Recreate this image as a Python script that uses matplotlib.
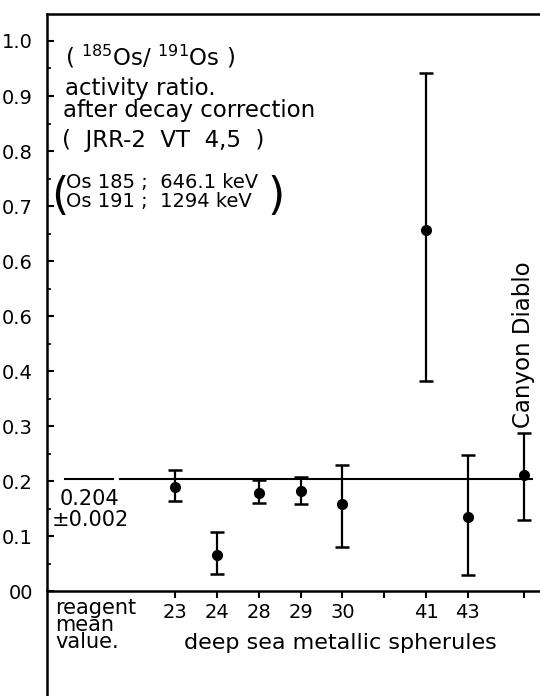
import matplotlib
matplotlib.use("Agg")
import matplotlib.pyplot as plt
import numpy as np

# ---- data ----
sample_labels = ["23", "24", "28", "29", "30", "", "41", "43", ""]
sample_pos = [0, 1, 2, 3, 4, 5, 6, 7, 8.33]
point_labels = ["23", "24", "28", "29", "30", "41", "43", "Canyon Diablo"]
point_pos = [0, 1, 2, 3, 4, 6, 7, 8.33]
ratio = [0.190, 0.067, 0.179, 0.182, 0.158, 0.656, 0.135, 0.211]
err_high = [0.220, 0.108, 0.203, 0.207, 0.230, 0.942, 0.248, 0.288]
err_low = [0.164, 0.031, 0.161, 0.159, 0.081, 0.382, 0.029, 0.129]
reagent_mean = 0.204
y_ticks = [0.0, 0.1, 0.2, 0.3, 0.4, 0.5, 0.6, 0.7, 0.8, 0.9, 1.0]
y_ticklabels = ["00", "0.1", "0.2", "0.3", "0.4", "0.6", "0.6", "0.7", "0.8", "0.9", "1.0"]

plt.rcParams["font.family"] = ["DejaVu Sans"]
fig = plt.figure(figsize=(5.4, 6.96), dpi=100)
ax = fig.add_axes([0.087, 0.0, 0.915, 0.9799])
ax.set_xlim(-3.06, 8.75)
ax.set_ylim(-0.19, 1.049)

for s in ["left", "top", "bottom"]:
    ax.spines[s].set_linewidth(1.8)
ax.spines["right"].set_visible(False)
ax.spines["bottom"].set_position(("data", 0))

# y ticks
ax.set_yticks(y_ticks)
ax.set_yticklabels(y_ticklabels, fontsize=14)
ax.set_yticks(np.arange(0.05, 1.0, 0.1), minor=True)
ax.tick_params(axis="y", which="major", direction="in", length=5, width=1.5, pad=10)
ax.tick_params(axis="y", which="minor", direction="in", length=3, width=1.2)

# x ticks
ax.set_xticks(sample_pos)
ax.set_xticklabels(sample_labels, fontsize=14)
ax.tick_params(axis="x", which="major", direction="out", length=5, width=1.5, pad=3)

# reagent mean line
ax.plot([-2.63, -1.48], [reagent_mean, reagent_mean], color="black", lw=1.5)
ax.plot([-1.32, 8.54], [reagent_mean, reagent_mean], color="black", lw=1.5)

# error bars
yerr = [np.array(ratio) - np.array(err_low), np.array(err_high) - np.array(ratio)]
ax.errorbar(point_pos, ratio, yerr=yerr, fmt="o", color="black", ms=7,
            elinewidth=1.6, capsize=5, capthick=1.8)

# texts
ax.text(-2.63, 0.956, r"( $^{185}$Os/ $^{191}$Os )", fontsize=16.5, ha="left", va="baseline")
ax.text(-2.63, 0.902, "activity ratio.", fontsize=16.5, ha="left", va="baseline")
ax.text(-2.68, 0.862, "after decay correction", fontsize=16.5, ha="left", va="baseline")
ax.text(-2.70, 0.807, "(  JRR-2  VT  4,5  )", fontsize=16.5, ha="left", va="baseline")
ax.text(-2.95, 0.718, "(", fontsize=32, ha="left", va="center")
ax.text(-2.60, 0.733, "Os 185 ;  646.1 keV", fontsize=14, ha="left", va="baseline")
ax.text(-2.60, 0.698, "Os 191 ;  1294 keV", fontsize=14, ha="left", va="baseline")
ax.text(2.22, 0.718, ")", fontsize=32, ha="left", va="center")

ax.text(-2.75, 0.167, "0.204", fontsize=15, ha="left", va="center")
ax.text(-2.94, 0.129, "±0.002", fontsize=15, ha="left", va="center")

ax.text(-2.87, -0.012, "reagent\nmean\nvalue.", fontsize=15, ha="left", va="top",
        linespacing=0.8)
ax.text(3.95, -0.093, "deep sea metallic spherules", fontsize=16, ha="center", va="center")
ax.text(8.33, 0.296, "Canyon Diablo", fontsize=16.5, rotation=90, ha="center", va="bottom")

fig.savefig("out.png", dpi=100)
